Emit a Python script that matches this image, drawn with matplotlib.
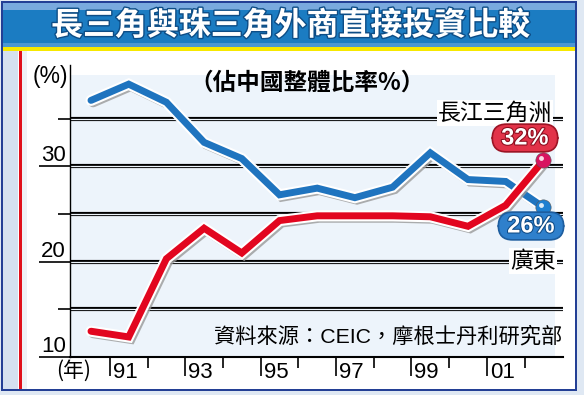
import matplotlib
matplotlib.use("Agg")
import matplotlib.pyplot as plt
import matplotlib.patheffects as pe
from matplotlib.patches import Rectangle
from matplotlib.transforms import ScaledTranslation

years = list(range(1990, 2003))
yangtze = [36.9, 38.6, 36.7, 32.5, 30.8, 27.0, 27.7, 26.7, 27.8, 31.4, 28.6, 28.4, 25.7]
guangdong = [12.7, 12.1, 20.3, 23.5, 20.9, 24.3, 24.8, 24.8, 24.8, 24.7, 23.7, 25.9, 30.6]
tick_years = ["91", "93", "95", "97", "99", "01"]
y_labels = [10, 20, 30]

title = "長三角與珠三角外商直接投資比較"
subtitle = "（佔中國整體比率%）"
source = "資料來源：CEIC，摩根士丹利研究部"

cjk = ["Noto Sans CJK TC", "DejaVu Sans"]
latin = ["Liberation Sans", "Noto Sans CJK TC", "DejaVu Sans"]

W, H = 584, 395
fig = plt.figure(figsize=(W / 100, H / 100), dpi=100)
fig.patch.set_facecolor("white")


def px_rect(x0, y0, x1, y1, color, z=0):
    # rectangle in pixel coords (top-left origin)
    fig.patches.append(Rectangle((x0 / W, 1 - y1 / H), (x1 - x0) / W, (y1 - y0) / H,
                                 transform=fig.transFigure, facecolor=color,
                                 edgecolor="none", zorder=z))


# frame
px_rect(0, 0, W, H, "#dfe8f3")
px_rect(3, 3, 576, 389, "white")
px_rect(3, 3, 18, 389, "#d5e1ef")
px_rect(19, 51, 22, 389, "#e0101a")
px_rect(22, 51, 27, 389, "#eef1f5")
# title bar
px_rect(3, 2, 576, 10, "#79aade")
px_rect(3, 10, 576, 43, "#1b7cc2")
px_rect(3, 43, 576, 47, "#4b97d2")
px_rect(3, 47, 576, 51, "#f7e800")
# dark border
for (a, b, c, d) in [(1, 1, 577, 3), (1, 1, 3, 391), (575, 1, 577, 391), (1, 389, 577, 391)]:
    px_rect(a, b, c, d, "#233f95", z=1)

fig.text(291 / W, 1 - 26 / H, title, family=cjk, fontsize=23, fontweight="bold",
         color="white", ha="center", va="center",
         path_effects=[pe.withStroke(linewidth=2, foreground="#0d4d86")])

# axes
x_of = lambda px: 1990 + (px - 91) / 37.7
y_of = lambda py: 10 + (357 - py) / 9.54
ax = fig.add_axes([70 / W, 1 - 357 / H, (563 - 70) / W, (357 - 65) / H])
ax.set_zorder(5)
ax.set_facecolor("none")
ax.set_xlim(x_of(70), x_of(563))
ax.set_ylim(10, y_of(65))
ax.add_patch(Rectangle((x_of(70), 10), x_of(555) - x_of(70), y_of(75) - 10,
                       facecolor="#edf4fb", edgecolor="none", zorder=0))

for s in ["top", "right"]:
    ax.spines[s].set_visible(False)
ax.spines["left"].set_linewidth(1.0)
ax.spines["bottom"].set_linewidth(1.5)

for v in [15, 20, 25, 30, 35]:
    ax.axhline(v, color="black", lw=3.0, zorder=1, solid_capstyle="butt")
    ax.axhline(v, color="#edf4fb", lw=0.9, zorder=1.1, solid_capstyle="butt")

# y ticks
ax.set_yticks(y_labels, labels=[])
ax.set_yticks([15, 25, 35], minor=True)
ax.tick_params(axis="y", which="major", length=22.5, width=1.2)
ax.tick_params(axis="y", which="minor", length=8.5, width=1.2)
for v in y_labels:
    ax.annotate(str(v), xy=(x_of(70), v), xytext=(-4, 5), textcoords="offset pixels",
                ha="right", va="baseline", family=latin, fontsize=16, annotation_clip=False)

# x ticks at year boundaries
major = [1990.5 + 2 * k for k in range(len(tick_years))]
ax.set_xticks(major, labels=[])
ax.set_xticks([m + 1 for m in major], minor=True)
ax.tick_params(axis="x", which="major", length=14, width=1.2)
ax.tick_params(axis="x", which="minor", length=8, width=1.2)
for m, lbl in zip(major, tick_years):
    ax.annotate(lbl, xy=(m, 10), xytext=(3, -21), textcoords="offset pixels",
                ha="left", va="baseline", family=latin, fontsize=16, annotation_clip=False)

fig.text(74 / W, 1 - 371 / H, "(年)", family=cjk, fontsize=15, ha="center", va="center")
fig.text(50 / W, 1 - 76 / H, "(%)", family=latin, fontsize=16.5, ha="center", va="center")

# lines
lw = 5
effects = [pe.SimpleLineShadow(offset=(1.5, -1.5), shadow_color="#9a9a9a", alpha=0.8, linewidth=lw + 2),
           pe.Stroke(linewidth=lw + 3, foreground="white"), pe.Normal()]
ax.plot(years, yangtze, color="#1f74bf", lw=lw, zorder=3, solid_joinstyle="miter",
        solid_capstyle="round", path_effects=effects)
ax.plot(years, guangdong, color="#e2061f", lw=lw, zorder=4, solid_joinstyle="miter",
        solid_capstyle="round", path_effects=effects)

# end balls
hl = ScaledTranslation(-2 / 100, 2 / 100, fig.dpi_scale_trans)
for series, col in [(guangdong, "#d81460"), (yangtze, "#1e7fd0")]:
    ax.plot(years[-1], series[-1], "o", ms=11, color=col, mec="#555555", mew=0.4, zorder=6,
            clip_on=False)
    ax.plot(years[-1], series[-1], "o", ms=3.5, color="white", mec="none", alpha=0.85,
            zorder=7, transform=ax.transData + hl, clip_on=False)

# value tags
ax.text(x_of(525), y_of(138), " 32% ", family=latin, fontsize=17, fontweight="bold",
        color="white", ha="center", va="center", zorder=8,
        path_effects=[pe.withStroke(linewidth=1.5, foreground="#8a0c1c")],
        bbox=dict(boxstyle="round,pad=0.1,rounding_size=0.6", fc="#e23349", ec="#9c1424", lw=1.2))
ax.text(x_of(531), y_of(226), " 26% ", family=latin, fontsize=17, fontweight="bold",
        color="white", ha="center", va="center", zorder=8,
        path_effects=[pe.withStroke(linewidth=1.5, foreground="#0f4b86")],
        bbox=dict(boxstyle="round,pad=0.1,rounding_size=0.6", fc="#2f80cc", ec="#1d5d9e", lw=1.2))

# series names
ax.text(x_of(495), y_of(113), "長江三角洲", family=cjk, fontsize=16.5, ha="center", va="center",
        zorder=5, bbox=dict(boxstyle="square,pad=0.05", fc="white", ec="none"))
ax.text(x_of(533), y_of(261), "廣東", family=cjk, fontsize=16.5, ha="center", va="center",
        zorder=5, bbox=dict(boxstyle="square,pad=0.05", fc="white", ec="none"))

ax.text(x_of(307), y_of(83), subtitle, family=cjk, fontsize=17, fontweight="bold",
        ha="center", va="center", zorder=5)
ax.text(x_of(562), y_of(336), source, family=latin, fontsize=15.3, ha="right", va="center", zorder=5)

fig.savefig("out.png", dpi=100)
